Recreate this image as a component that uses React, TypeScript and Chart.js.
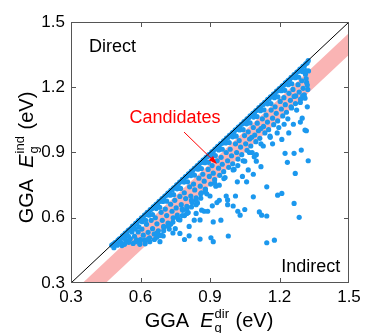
import React, { useEffect, useRef } from 'react';
import { Chart, registerables } from 'chart.js';
Chart.register(...registerables);

const FONT = 'Arial, "Liberation Sans", Helvetica, sans-serif';

// axis
const axisMin = 0.3;
const axisMax = 1.5;
const axisStep = 0.3;
const innerTicks = [0.6, 0.9, 1.2];

// y = x reference line
const diagonalX = [0.3, 1.5];
const diagonalY = [0.3, 1.5];

// candidate band (between two parallel lines)
const bandX = [0.3, 1.5];
const bandUpperY = [0.25, 1.45];
const bandLowerY = [0.15, 1.35];

// points close to the diagonal
const edgePoints: [number, number][] = [
  [0.476,0.474],[0.483,0.479],[0.49,0.486],[0.497,0.488],[0.503,0.497],[0.509,0.503],[0.515,0.505],[0.522,0.517],[0.528,0.52],[0.534,0.53],
  [0.541,0.531],[0.547,0.542],[0.553,0.546],[0.56,0.552],[0.566,0.562],[0.572,0.563],[0.579,0.574],[0.585,0.577],[0.591,0.587],[0.598,0.589],
  [0.604,0.6],[0.61,0.601],[0.617,0.612],[0.623,0.615],[0.629,0.625],[0.636,0.626],[0.642,0.637],[0.648,0.64],[0.655,0.65],[0.661,0.652],
  [0.667,0.662],[0.674,0.665],[0.68,0.675],[0.686,0.677],[0.693,0.688],[0.699,0.69],[0.705,0.7],[0.712,0.703],[0.718,0.713],[0.724,0.715],
  [0.731,0.726],[0.737,0.728],[0.743,0.738],[0.75,0.741],[0.756,0.751],[0.762,0.753],[0.769,0.764],[0.775,0.766],[0.781,0.776],[0.788,0.779],
  [0.794,0.789],[0.8,0.791],[0.807,0.802],[0.813,0.804],[0.819,0.814],[0.826,0.817],[0.832,0.827],[0.838,0.829],[0.845,0.84],[0.851,0.842],
  [0.857,0.852],[0.864,0.855],[0.87,0.865],[0.876,0.867],[0.883,0.878],[0.889,0.88],[0.895,0.89],[0.902,0.893],[0.908,0.903],[0.914,0.905],
  [0.921,0.916],[0.927,0.918],[0.933,0.928],[0.94,0.931],[0.946,0.941],[0.952,0.943],[0.959,0.954],[0.965,0.956],[0.971,0.966],[0.978,0.969],
  [0.984,0.979],[0.99,0.981],[0.997,0.992],[1.003,0.994],[1.009,1.004],[1.016,1.007],[1.022,1.017],[1.028,1.019],[1.035,1.03],[1.041,1.032],
  [1.047,1.042],[1.054,1.045],[1.06,1.055],[1.066,1.057],[1.073,1.068],[1.079,1.07],[1.085,1.08],[1.092,1.083],[1.098,1.093],[1.104,1.095],
  [1.111,1.106],[1.117,1.108],[1.123,1.118],[1.13,1.121],[1.136,1.131],[1.142,1.133],[1.149,1.144],[1.155,1.146],[1.161,1.156],[1.168,1.159],
  [1.174,1.169],[1.18,1.171],[1.187,1.182],[1.193,1.184],[1.199,1.194],[1.206,1.197],[1.212,1.207],[1.218,1.209],[1.225,1.22],[1.231,1.222],
  [1.237,1.232],[1.244,1.235],[1.25,1.245],[1.256,1.247],[1.263,1.258],[1.269,1.26],[1.275,1.27],[1.282,1.273],[1.288,1.283],[1.294,1.285],
  [1.301,1.296],[1.307,1.298],[1.313,1.308],[1.319,1.312],[1.324,1.322],
  [0.485,0.462],[0.5,0.474],[0.518,0.485],[0.532,0.505],[0.548,0.515],[0.563,0.535],[0.577,0.548],[0.593,0.558],[0.607,0.582],[0.622,0.588],
  [0.637,0.612],[0.652,0.615],[0.668,0.642],[0.683,0.648],[0.697,0.675],[0.713,0.676],[0.728,0.704],[0.743,0.706],[0.758,0.733],[0.773,0.735],
  [0.788,0.764],[0.803,0.765],[0.818,0.794],[0.833,0.796],[0.848,0.823],[0.863,0.826],[0.878,0.853],[0.893,0.855],[0.908,0.884],[0.923,0.886],
  [0.938,0.912],[0.953,0.915],[0.968,0.944],[0.983,0.946],[0.998,0.972],[1.013,0.975],[1.028,1.004],[1.043,1.005],[1.058,1.032],[1.073,1.036],
  [1.088,1.063],[1.103,1.065],[1.118,1.092],[1.133,1.096],[1.148,1.124],[1.163,1.125],[1.178,1.152],[1.193,1.156],[1.208,1.184],[1.223,1.186],
  [1.238,1.212],[1.253,1.216],[1.268,1.244],[1.283,1.246],[1.298,1.272],[1.313,1.276],
];

// points inside / around the candidate band
const bandPoints: [number, number][] = [
  [0.52,0.472],[0.531,0.478],[0.538,0.495],[0.549,0.487],[0.556,0.503],[0.568,0.482],[0.574,0.515],[0.583,0.498],[0.59,0.535],[0.597,0.478],
  [0.606,0.548],[0.612,0.52],[0.618,0.497],[0.626,0.57],[0.633,0.533],[0.639,0.508],[0.646,0.588],[0.652,0.55],[0.659,0.525],[0.664,0.6],
  [0.671,0.572],[0.677,0.54],[0.683,0.518],[0.689,0.625],[0.694,0.588],[0.701,0.556],[0.707,0.64],[0.713,0.61],[0.719,0.575],[0.724,0.548],
  [0.73,0.662],[0.736,0.63],[0.741,0.6],[0.748,0.68],[0.754,0.645],[0.759,0.612],[0.764,0.592],[0.77,0.698],[0.776,0.66],[0.782,0.634],
  [0.789,0.715],[0.795,0.688],[0.8,0.652],[0.806,0.624],[0.812,0.742],[0.817,0.7],[0.823,0.67],[0.829,0.755],[0.834,0.728],[0.84,0.692],
  [0.846,0.668],[0.852,0.782],[0.858,0.745],[0.863,0.715],[0.869,0.8],[0.875,0.768],[0.88,0.732],[0.886,0.71],[0.892,0.822],[0.897,0.79],
  [0.903,0.755],[0.909,0.84],[0.914,0.805],[0.92,0.775],[0.925,0.745],[0.931,0.862],[0.937,0.828],[0.942,0.795],[0.948,0.878],[0.953,0.846],
  [0.959,0.812],[0.965,0.785],[0.97,0.9],[0.976,0.862],[0.981,0.832],[0.987,0.915],[0.993,0.885],[0.998,0.848],[1.004,0.822],[1.01,0.94],
  [1.015,0.9],[1.021,0.87],[1.026,0.955],[1.032,0.925],[1.037,0.89],[1.043,0.862],[1.049,0.978],[1.054,0.94],[1.06,0.91],[1.065,0.995],
  [1.071,0.962],[1.076,0.93],[1.082,0.9],[1.087,1.015],[1.093,0.98],[1.098,0.95],[1.104,1.035],[1.109,1.0],[1.115,0.965],[1.12,0.94],
  [1.126,1.055],[1.131,1.02],[1.137,0.99],[1.142,1.072],[1.148,1.04],[1.153,1.005],[1.159,0.975],[1.164,1.095],[1.17,1.058],[1.175,1.028],
  [1.181,1.11],[1.186,1.08],[1.192,1.045],[1.197,1.015],[1.203,1.135],[1.208,1.1],[1.214,1.068],[1.219,1.152],[1.225,1.12],[1.23,1.085],
  [1.236,1.055],[1.241,1.172],[1.247,1.14],[1.252,1.105],[1.258,1.19],[1.263,1.158],[1.269,1.125],[1.274,1.095],[1.28,1.212],[1.285,1.178],
  [1.291,1.145],[1.296,1.23],[1.302,1.195],[1.307,1.165],[1.312,1.26],[1.317,1.222],[1.322,1.19],[1.325,1.275],
  [1.16,0.97],[1.17,0.94],[1.21,0.96],[1.24,0.99],[1.26,1.03],[1.22,1.03],[1.19,0.99],[1.13,0.93],[1.07,0.90],[1.05,0.86],
  [1.02,0.84],[1.0,0.82],[1.08,0.97],[1.12,1.01],[1.25,1.11],[1.27,1.16],[1.30,1.16],[1.29,1.13],[1.31,1.15],[1.32,1.21],
  [1.315,1.24],[0.96,0.78],[0.94,0.75],[0.92,0.76],[0.88,0.73],[0.86,0.69],[0.84,0.66],[0.82,0.68],[0.8,0.62],[0.78,0.64],
  [0.76,0.6],[0.74,0.58],[0.72,0.56],[0.7,0.54],[0.69,0.52],[0.67,0.53],[0.66,0.5],[0.64,0.49],[0.62,0.48],[0.6,0.5],
  [0.58,0.49],[0.598,0.49],[0.63,0.5],
];

// scattered points well below the band
const outlierPoints: [number, number][] = [
  [1.324,0.862],[1.294,0.911],[1.316,1.0],[1.31,1.003],[1.32,1.11],[1.298,1.058],[1.29,1.04],[1.268,0.804],[1.263,0.666],[1.285,0.602],
  [1.263,0.896],[1.234,0.855],[1.224,0.896],[1.21,0.712],[1.192,0.704],[1.178,0.497],[1.145,0.485],[1.145,0.608],[1.145,0.742],[1.123,0.612],
  [1.113,0.627],[1.091,0.88],[1.10,0.89],[1.087,0.696],[1.03,0.612],[1.02,0.63],[0.976,0.682],[0.976,0.66],[1.0,0.654],[1.05,0.638],
  [1.01,0.70],[1.058,0.765],[1.087,0.80],[1.065,0.82],[1.12,0.835],[1.10,0.86],[1.04,0.79],[1.018,0.765],[0.97,0.70],[0.94,0.68],
  [0.947,0.589],[0.91,0.655],[0.914,0.581],[0.904,0.508],[0.914,0.49],[0.979,0.516],[0.857,0.502],[0.864,0.635],[0.857,0.59],[0.875,0.63],
  [0.832,0.589],[0.81,0.56],[0.81,0.517],[0.77,0.528],[0.75,0.55],[0.79,0.50],[0.74,0.53],[0.698,0.516],[0.684,0.49],[0.67,0.51],
  [0.70,0.56],[0.73,0.57],[0.77,0.59],[0.79,0.61],[0.84,0.62],[0.89,0.63],[0.93,0.67],[0.90,0.70],[0.88,0.72],[0.86,0.71],
  [0.84,0.68],[0.80,0.64],[0.82,0.65],[0.78,0.61],
];

// annotations (data coordinates)
const directLabel = { text: 'Direct', x: 0.378, y: 1.385 };
const indirectLabel = { text: 'Indirect', x: 1.462, y: 0.373 };
const candidatesLabel = { text: 'Candidates', x: 0.749, y: 1.058 };
const arrowFrom = { x: 0.788, y: 0.994 };
const arrowTo = { x: 0.93, y: 0.847 };

function drawRichTitle(ctx: CanvasRenderingContext2D, sup: string) {
  const big = `20px ${FONT}`;
  const ital = `italic 20px ${FONT}`;
  const small = `13px ${FONT}`;
  ctx.font = big;
  const w1 = ctx.measureText('GGA  ').width;
  ctx.font = ital;
  const w2 = ctx.measureText('E').width + 1;
  ctx.font = small;
  const w3 = Math.max(ctx.measureText('g').width, ctx.measureText(sup).width) + 1;
  ctx.font = big;
  const w4 = ctx.measureText(' (eV)').width;
  const total = w1 + w2 + w3 + w4;
  let x = -total / 2;
  ctx.textBaseline = 'alphabetic';
  ctx.textAlign = 'left';
  ctx.fillStyle = '#000';
  ctx.font = big;
  ctx.fillText('GGA  ', x, 0);
  x += w1;
  ctx.font = ital;
  ctx.fillText('E', x, 0);
  x += w2;
  ctx.font = small;
  ctx.fillText('g', x, 5);
  ctx.fillText(sup, x, -9);
  x += w3;
  ctx.font = big;
  ctx.fillText(' (eV)', x, 0);
}

const decorPlugin = {
  id: 'decor',
  afterDraw(chart: any) {
    const { ctx, chartArea, scales } = chart;
    const xs = scales.x;
    const ys = scales.y;
    const { left, right, top, bottom } = chartArea;
    ctx.save();
    // frame
    ctx.strokeStyle = '#555';
    ctx.lineWidth = 1;
    ctx.strokeRect(left + 0.5, top + 0.5, right - left - 1, bottom - top - 1);
    // inward ticks
    ctx.beginPath();
    for (const v of innerTicks) {
      const px = Math.round(xs.getPixelForValue(v)) + 0.5;
      ctx.moveTo(px, bottom);
      ctx.lineTo(px, bottom - 5);
      ctx.moveTo(px, top);
      ctx.lineTo(px, top + 5);
      const py = Math.round(ys.getPixelForValue(v)) + 0.5;
      ctx.moveTo(left, py);
      ctx.lineTo(left + 5, py);
      ctx.moveTo(right, py);
      ctx.lineTo(right - 5, py);
    }
    ctx.stroke();

    // annotations
    ctx.font = `18px ${FONT}`;
    ctx.textBaseline = 'middle';
    ctx.fillStyle = '#000';
    ctx.textAlign = 'left';
    ctx.fillText(directLabel.text, xs.getPixelForValue(directLabel.x), ys.getPixelForValue(directLabel.y));
    ctx.textAlign = 'right';
    ctx.fillText(indirectLabel.text, xs.getPixelForValue(indirectLabel.x), ys.getPixelForValue(indirectLabel.y));
    ctx.textAlign = 'center';
    ctx.fillStyle = '#ff0000';
    ctx.fillText(candidatesLabel.text, xs.getPixelForValue(candidatesLabel.x), ys.getPixelForValue(candidatesLabel.y));

    // arrow
    const ax = xs.getPixelForValue(arrowFrom.x);
    const ay = ys.getPixelForValue(arrowFrom.y);
    const bx = xs.getPixelForValue(arrowTo.x);
    const by = ys.getPixelForValue(arrowTo.y);
    const ang = Math.atan2(by - ay, bx - ax);
    ctx.strokeStyle = '#ff0000';
    ctx.lineWidth = 1;
    ctx.beginPath();
    ctx.moveTo(ax, ay);
    ctx.lineTo(bx - 6 * Math.cos(ang), by - 6 * Math.sin(ang));
    ctx.stroke();
    ctx.beginPath();
    ctx.moveTo(bx, by);
    ctx.lineTo(bx - 9 * Math.cos(ang - 0.35), by - 9 * Math.sin(ang - 0.35));
    ctx.lineTo(bx - 9 * Math.cos(ang + 0.35), by - 9 * Math.sin(ang + 0.35));
    ctx.closePath();
    ctx.fillStyle = '#ff0000';
    ctx.fill();

    // axis titles
    ctx.save();
    ctx.translate((left + right) / 2 - 1, 327);
    drawRichTitle(ctx, 'dir');
    ctx.restore();
    ctx.save();
    ctx.translate(33, (top + bottom) / 2 + 5);
    ctx.rotate(-Math.PI / 2);
    drawRichTitle(ctx, 'ind');
    ctx.restore();

    ctx.restore();
  },
};

const toXY = (arr: [number, number][]) => arr.map(([x, y]) => ({ x, y }));

export default function App() {
  const ref = useRef<HTMLCanvasElement | null>(null);
  useEffect(() => {
    if (!ref.current) return;
    const pointColor = '#1b98ee';
    const chart = new Chart(ref.current, {
      type: 'scatter',
      data: {
        datasets: [
          {
            type: 'line',
            data: bandX.map((x, i) => ({ x, y: bandUpperY[i] })),
            borderWidth: 0,
            borderColor: 'rgba(0,0,0,0)',
            pointRadius: 0,
            fill: false,
            order: 4,
          } as any,
          {
            type: 'line',
            data: bandX.map((x, i) => ({ x, y: bandLowerY[i] })),
            borderWidth: 0,
            borderColor: 'rgba(0,0,0,0)',
            backgroundColor: '#fab4b4',
            pointRadius: 0,
            fill: '-1',
            order: 3,
          } as any,
          {
            data: toXY([...outlierPoints, ...bandPoints, ...edgePoints]),
            backgroundColor: pointColor,
            borderWidth: 0,
            pointRadius: 2.6,
            order: 2,
          },
          {
            type: 'line',
            data: diagonalX.map((x, i) => ({ x, y: diagonalY[i] })),
            borderColor: '#000',
            borderWidth: 1,
            pointRadius: 0,
            fill: false,
            order: 1,
          } as any,
        ],
      },
      options: {
        animation: false,
        responsive: false,
        devicePixelRatio: 1,
        layout: { padding: { top: 22, right: 16, left: 0, bottom: 0 } },
        plugins: { legend: { display: false }, tooltip: { enabled: false } },
        scales: {
          x: {
            type: 'linear',
            min: axisMin,
            max: axisMax,
            grid: { display: false, drawTicks: false },
            border: { display: false },
            ticks: {
              stepSize: axisStep,
              autoSkip: false,
              color: '#000',
              padding: 4,
              font: { size: 17, family: FONT },
              callback: (v: any) => Number(v).toFixed(1),
            },
            afterFit: (s: any) => { s.height = 50; },
          },
          y: {
            type: 'linear',
            min: axisMin,
            max: axisMax,
            grid: { display: false, drawTicks: false },
            border: { display: false },
            ticks: {
              stepSize: axisStep,
              autoSkip: false,
              color: '#000',
              padding: 6,
              font: { size: 17, family: FONT },
              callback: (v: any) => Number(v).toFixed(1),
            },
            afterFit: (s: any) => { s.width = 71; },
          },
        },
      },
      plugins: [decorPlugin],
    });
    return () => chart.destroy();
  }, []);
  return (
    <div style={{ position: 'fixed', left: 0, top: 0, width: 365, height: 333, background: '#fff' }}>
      <canvas ref={ref} width={365} height={333} style={{ display: 'block' }} />
    </div>
  );
}
